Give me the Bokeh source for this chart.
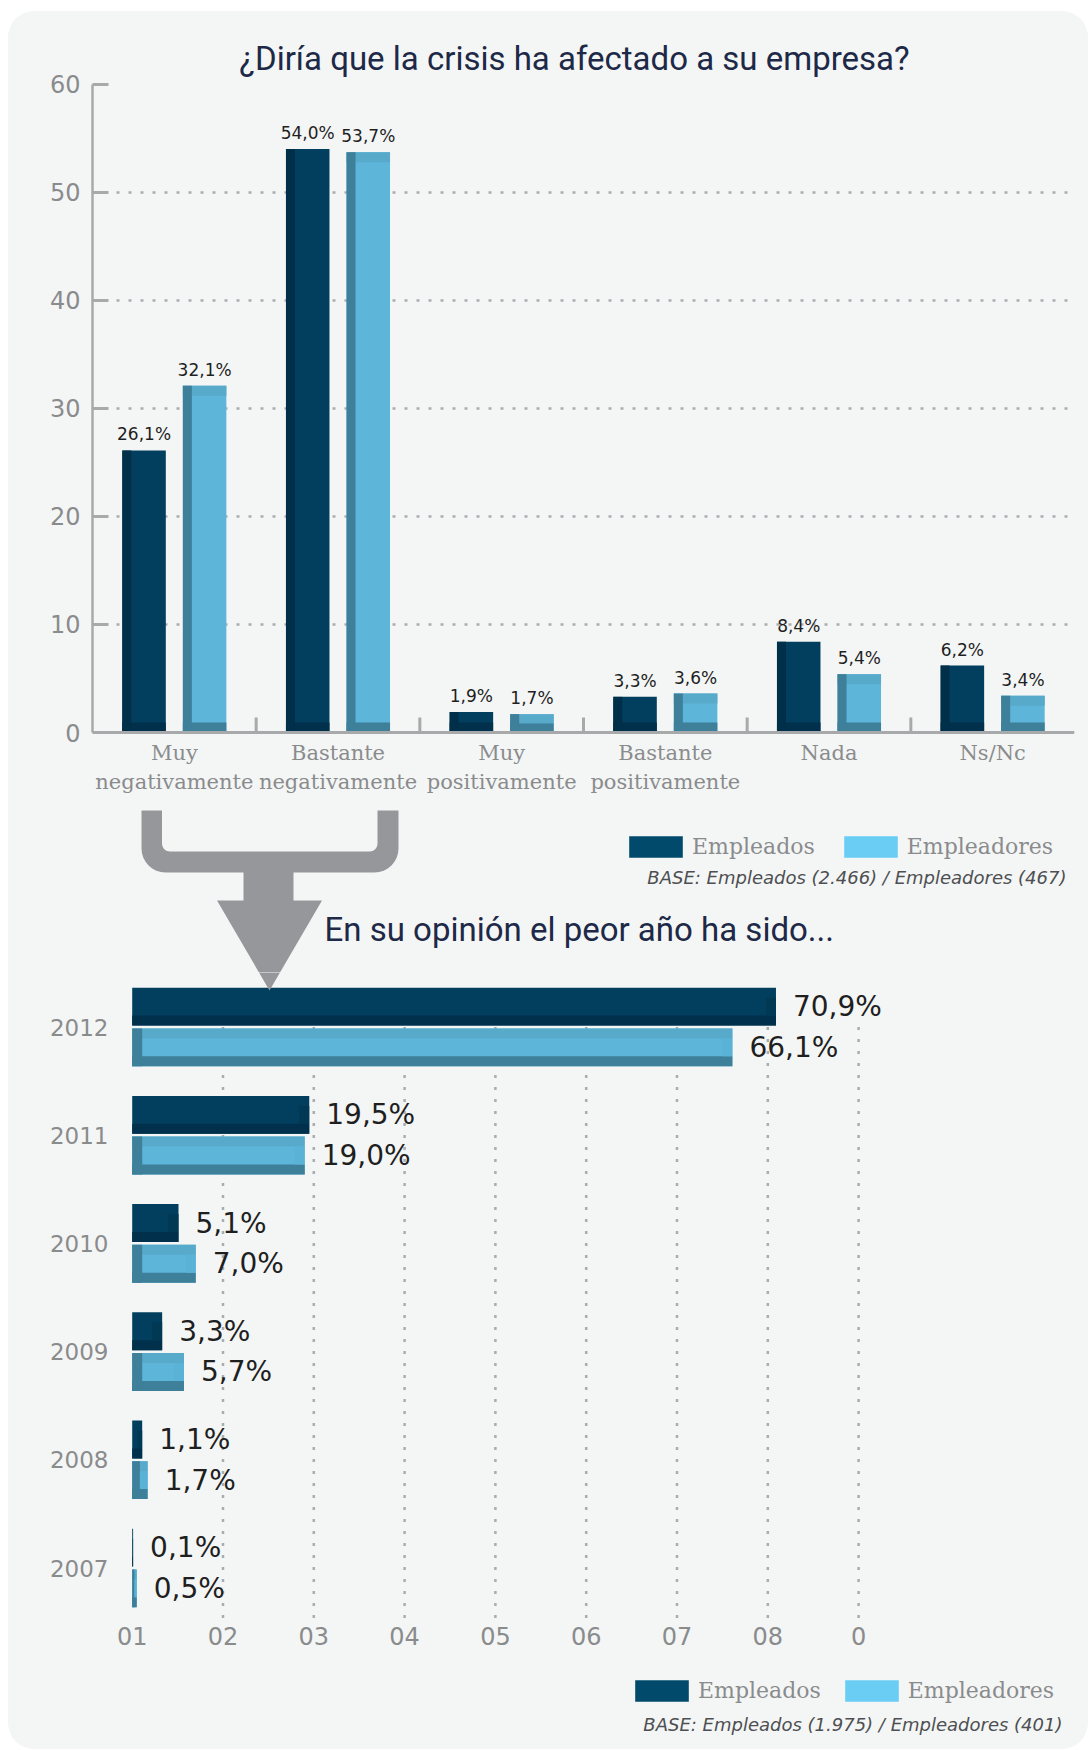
import numpy as np
from bokeh.plotting import figure
from bokeh.models import (ColumnDataSource, Range1d, FactorRange, FixedTicker,
                          Legend, LegendItem, Span)
from bokeh.transform import dodge
from bokeh.layouts import column
from bokeh.core.properties import value
from bokeh.embed import file_html
from bokeh.resources import INLINE

# ---------------- data ----------------
CATEGORIES = ["Muy negativamente", "Bastante negativamente", "Muy positivamente",
              "Bastante positivamente", "Nada", "Ns/Nc"]
CATEGORY_LABELS = ["Muy\nnegativamente", "Bastante\nnegativamente", "Muy\npositivamente",
                   "Bastante\npositivamente", "Nada", "Ns/Nc"]
EMPLEADOS_Q1 = [26.1, 54.0, 1.9, 3.3, 8.4, 6.2]
EMPLEADORES_Q1 = [32.1, 53.7, 1.7, 3.6, 5.4, 3.4]
Y_TICKS_Q1 = [0, 10, 20, 30, 40, 50, 60]

YEARS = ["2012", "2011", "2010", "2009", "2008", "2007"]
EMPLEADOS_Q2 = [70.9, 19.5, 5.1, 3.3, 1.1, 0.1]
EMPLEADORES_Q2 = [66.1, 19.0, 7.0, 5.7, 1.7, 0.5]
X_TICKS_Q2 = [0, 10, 20, 30, 40, 50, 60, 70, 80]
X_TICK_LABELS_Q2 = ["01", "02", "03", "04", "05", "06", "07", "08", "0"]

SERIES = ["Empleados", "Empleadores"]
TITLE_Q1 = "¿Diría que la crisis ha afectado a su empresa?"
TITLE_Q2 = "En su opinión el peor año ha sido..."
BASE_Q1 = "BASE: Empleados (2.466) / Empleadores (467)"
BASE_Q2 = "BASE: Empleados (1.975) / Empleadores (401)"

# ---------------- styles ----------------
CARD = "#f4f6f5"
NAVY = "#1d2947"
GREY_TXT = "#8a8b8d"
AXIS_GREY = "#a7a9ab"
DOT_GREY = "#a9adb2"
VAL_TXT = "#1f1f1f"
BASE_TXT = "#4d4f52"
ARROW = "#96979b"
DARK = dict(body="#023f5e", side="#002f49", bottom="#00304b", top="#023f5e", right="#013854")
LIGHT = dict(body="#5db5da", side="#3e7f9a", bottom="#3e7f99", top="#58aacb", right="#5ab2d7")
LEGEND_COLORS = ["#024a6b", "#69cdf4"]

# ---------------- layout (page pixels) ----------------
CARD_X0, CARD_Y0 = 8, 11
W = 1080
F1_TOP, F1_BOTTOM = 11, 972
F2_TOP, F2_BOTTOM = 972, 1749
FRAME_LEFT = 92
FRAME_RIGHT = 1074
Y0_PX, YTOP_PX = 732.0, 83.7
X0_PX2, PX_PER_PCT = 131.7, 9.08
ROW0_PX, ROW_PX = 1026.5, 108.2


def fmt_pct(v):
    return f"{v:.1f}".replace(".", ",") + "%"


def arc(cx, cy, r, a0, a1, n=9):
    t = np.radians(np.linspace(a0, a1, n))
    return list(cx + r * np.cos(t)), list(cy + r * np.sin(t))


def arrow_shape():
    # decorative bracket + arrow, page pixel coordinates (y downwards)
    L_out, L_in, R_in, R_out = 141.0, 161.5, 377.0, 398.0
    top, in_bot, out_bot = 810.0, 851.0, 872.0
    s_l, s_r, s_bot = 243.0, 293.0, 900.0
    h_l, h_r, tip_x, tip_y = 216.5, 321.5, 269.0, 990.0
    Ro, ri = 24.0, 8.0
    xs, ys = [L_out], [top]
    ax, ay = arc(L_out + Ro, out_bot - Ro, Ro, 180, 90); xs += ax; ys += ay
    xs += [s_l, s_l, h_l, tip_x, h_r, s_r, s_r]
    ys += [out_bot, s_bot, s_bot, tip_y, s_bot, s_bot, out_bot]
    ax, ay = arc(R_out - Ro, out_bot - Ro, Ro, 90, 0); xs += ax; ys += ay
    xs += [R_out, R_in]; ys += [top, top]
    ax, ay = arc(R_in - ri, in_bot - ri, ri, 0, 90); xs += ax; ys += ay
    ax, ay = arc(L_in + ri, in_bot - ri, ri, 90, 180); xs += ax; ys += ay
    xs += [L_in]; ys += [top]
    return np.array(xs), np.array(ys)


AX, AY = arrow_shape()


def style_fig(p):
    p.background_fill_color = None
    p.border_fill_color = None
    p.outline_line_color = None


def legend_for(renderers, loc, spacing):
    return Legend(items=[LegendItem(label=s, renderers=[r]) for s, r in zip(SERIES, renderers)],
                  orientation="horizontal", location=loc, glyph_width=67, glyph_height=27,
                  label_standoff=3, spacing=spacing, padding=0, margin=0,
                  border_line_color=None, background_fill_alpha=0,
                  label_text_font="DejaVu Serif", label_text_font_size="22px",
                  label_text_color=GREY_TXT, label_text_baseline="middle")


# ================= chart 1 : vertical bars =================
ymax = Y_TICKS_Q1[-1]
s1 = (Y0_PX - YTOP_PX) / ymax
n1 = len(CATEGORIES)
cat_px = (FRAME_RIGHT - FRAME_LEFT) / n1


def px1(x):
    # page x -> synthetic categorical coordinate of chart 1
    return (np.asarray(x, float) - FRAME_LEFT) / cat_px


y1_range = Range1d(-(F1_BOTTOM - Y0_PX) / s1, ymax + (YTOP_PX - F1_TOP) / s1)
p1 = figure(width=W, height=F1_BOTTOM - F1_TOP,
            x_range=FactorRange(factors=CATEGORIES, range_padding=0), y_range=y1_range,
            output_backend="svg", toolbar_location=None, x_axis_location=None,
            min_border_left=FRAME_LEFT - CARD_X0,
            min_border_right=CARD_X0 + W - FRAME_RIGHT,
            min_border_top=0, min_border_bottom=0)
style_fig(p1)
p1.extra_y_ranges = {"py": Range1d(F1_BOTTOM, F1_TOP)}

p1.xgrid.visible = False
p1.ygrid.ticker = FixedTicker(ticks=Y_TICKS_Q1[1:-1])
p1.ygrid.grid_line_color = DOT_GREY
p1.ygrid.grid_line_width = 2.5
p1.ygrid.grid_line_dash = "3 9"

p1.yaxis.ticker = FixedTicker(ticks=Y_TICKS_Q1)
p1.yaxis.bounds = (0, ymax)
p1.yaxis.axis_line_color = AXIS_GREY
p1.yaxis.axis_line_width = 2.5
p1.yaxis.major_tick_in = 16
p1.yaxis.major_tick_out = 0
p1.yaxis.major_tick_line_color = AXIS_GREY
p1.yaxis.major_tick_line_width = 3
p1.yaxis.minor_tick_line_color = None
p1.yaxis.major_label_text_font = "DejaVu Sans"
p1.yaxis.major_label_text_font_size = "24px"
p1.yaxis.major_label_text_color = GREY_TXT
p1.yaxis.major_label_standoff = 12

# zero baseline
p1.add_layout(Span(location=0, dimension="width", line_color=AXIS_GREY, line_width=3))

# two-line category labels beneath the baseline
line1 = [lab.split("\n")[0] for lab in CATEGORY_LABELS]
two_line = [(c, lab.split("\n")[1]) for c, lab in zip(CATEGORIES, CATEGORY_LABELS) if "\n" in lab]
p1.text(x=CATEGORIES, y=[0] * n1, text=line1, y_offset=20, text_align="center",
        text_baseline="middle", text_font=value("DejaVu Serif"), text_font_size="21px",
        text_color=GREY_TXT)
p1.text(x=[c for c, _ in two_line], y=[0] * len(two_line), text=[t for _, t in two_line],
        y_offset=49, text_align="center", text_baseline="middle",
        text_font=value("DejaVu Serif"), text_font_size="21px", text_color=GREY_TXT)

BAR_W1 = 43.5 / cat_px
DODGE1 = 0.185
SIDE_W1 = 9.0 / cat_px
CAP_H1 = 10.0 / s1

# group separators on the baseline (between categories)
sep = list(range(1, n1))
p1.segment(x0=sep, x1=sep, y0=[0] * len(sep), y1=[15.0 / s1] * len(sep),
           line_color=AXIS_GREY, line_width=3)


def q1_source(vals):
    v = np.asarray(vals, float)
    return ColumnDataSource(dict(cat=CATEGORIES, v=v, lab=[fmt_pct(x) for x in v],
                                 bot_top=np.minimum(v / 2, CAP_H1),
                                 top_bot=np.maximum(v - CAP_H1, v / 2)))


def draw_vbars(p, src, off, pal, with_top):
    xc = dodge("cat", off, range=p.x_range)
    p.vbar(x=xc, top="v", bottom=0, width=BAR_W1, fill_color=pal["body"], line_color=None, source=src)
    p.vbar(x=xc, top="bot_top", bottom=0, width=BAR_W1, fill_color=pal["bottom"], line_color=None,
           source=src)
    if with_top:
        p.vbar(x=xc, top="v", bottom="top_bot", width=BAR_W1, fill_color=pal["top"], line_color=None,
               source=src)
    p.vbar(x=dodge("cat", off - BAR_W1 / 2 + SIDE_W1 / 2, range=p.x_range), top="v", bottom=0,
           width=SIDE_W1, fill_color=pal["side"], line_color=None, source=src)
    p.text(x=xc, y="v", text="lab", text_align="center", text_baseline="bottom", y_offset=-6,
           text_font=value("DejaVu Sans"), text_font_size="17px", text_color=VAL_TXT, source=src)


draw_vbars(p1, q1_source(EMPLEADOS_Q1), -DODGE1, DARK, False)
draw_vbars(p1, q1_source(EMPLEADORES_Q1), DODGE1, LIGHT, True)

# legend proxies (placed below the visible range, only their swatches are shown)
leg_r1 = [p1.vbar(x=[CATEGORIES[0]], bottom=[y1_range.start - 2], top=[y1_range.start - 1],
                  width=0.2, fill_color=c, line_color=None) for c in LEGEND_COLORS]
p1.add_layout(legend_for(leg_r1, (530, 112.5), 22))

# decorations: titles, base note, arrow (page pixels, converted)
p1.text(x=px1([574]), y=[58], text=[TITLE_Q1], y_range_name="py",
        text_align="center", text_baseline="alphabetic", text_font=value("Roboto"),
        text_font_size="33px", text_color=NAVY)
p1.text(x=px1([1066]), y=[877], text=[BASE_Q1], y_range_name="py",
        text_align="right", text_baseline="middle", text_font=value("DejaVu Sans"),
        text_font_style="italic", text_font_size="18px", text_color=BASE_TXT)
p1.text(x=px1([324]), y=[929], text=[TITLE_Q2], y_range_name="py",
        text_align="left", text_baseline="alphabetic", text_font=value("Roboto"),
        text_font_size="33px", text_color=NAVY)
p1.patch(x=px1(AX), y=AY, y_range_name="py", fill_color=ARROW, line_color=None)

# ================= chart 2 : horizontal bars =================
n2 = len(YEARS)
ypos = list(range(n2))
y2_range = Range1d((F2_BOTTOM - ROW0_PX) / ROW_PX, -(ROW0_PX - F2_TOP) / ROW_PX)
p2 = figure(width=W, height=F2_BOTTOM - F2_TOP,
            x_range=Range1d(-(X0_PX2 - FRAME_LEFT) / PX_PER_PCT,
                            (FRAME_RIGHT - X0_PX2) / PX_PER_PCT),
            y_range=y2_range,
            output_backend="svg", toolbar_location=None,
            min_border_left=FRAME_LEFT - CARD_X0,
            min_border_right=CARD_X0 + W - FRAME_RIGHT,
            min_border_top=0, min_border_bottom=0)
style_fig(p2)
p2.extra_x_ranges = {"px": Range1d(FRAME_LEFT, FRAME_RIGHT)}
p2.extra_y_ranges = {"py": Range1d(F2_BOTTOM, F2_TOP)}
p2.xgrid.visible = False
p2.ygrid.visible = False

p2.yaxis.ticker = FixedTicker(ticks=ypos)
p2.yaxis.major_label_overrides = {i: y for i, y in zip(ypos, YEARS)}
p2.yaxis.axis_line_color = None
p2.yaxis.major_tick_line_color = None
p2.yaxis.major_tick_out = 0
p2.yaxis.major_tick_in = 0
p2.yaxis.minor_tick_line_color = None
p2.yaxis.major_label_text_font = "DejaVu Sans"
p2.yaxis.major_label_text_font_size = "23px"
p2.yaxis.major_label_text_color = GREY_TXT
p2.yaxis.major_label_standoff = -16

axis_y = n2 - 0.5
p2.xaxis.fixed_location = axis_y
p2.xaxis.ticker = FixedTicker(ticks=X_TICKS_Q2)
p2.xaxis.major_label_overrides = dict(zip(X_TICKS_Q2, X_TICK_LABELS_Q2))
p2.xaxis.axis_line_color = None
p2.xaxis.major_tick_line_color = None
p2.xaxis.major_tick_out = 0
p2.xaxis.minor_tick_line_color = None
p2.xaxis.major_label_text_font = "DejaVu Sans"
p2.xaxis.major_label_text_font_size = "24px"
p2.xaxis.major_label_text_color = GREY_TXT
p2.xaxis.major_label_standoff = 5

# dotted vertical gridlines (from the first row down to the axis)
gt = X_TICKS_Q2[1:]
p2.segment(x0=gt, x1=gt, y0=[ypos[0]] * len(gt), y1=[axis_y] * len(gt),
           line_color=DOT_GREY, line_width=2.5, line_dash="3 9")

BAR_H2 = 0.35
DODGE2 = 0.188
CAP_H2 = 10.0 / ROW_PX
SIDE_W2 = 10.0 / PX_PER_PCT


def q2_source(vals):
    v = np.asarray(vals, float)
    return ColumnDataSource(dict(y=ypos, v=v, lab=[fmt_pct(x) for x in v],
                                 side_r=np.minimum(v / 2, SIDE_W2),
                                 right_l=np.maximum(v - SIDE_W2, v / 2)))


def draw_hbars(p, src, off, pal, light):
    yc = dodge("y", off)
    p.hbar(y=yc, left=0, right="v", height=BAR_H2, fill_color=pal["body"], line_color=None, source=src)
    p.hbar(y=dodge("y", off + BAR_H2 / 2 - CAP_H2 / 2), left=0, right="v", height=CAP_H2,
           fill_color=pal["bottom"], line_color=None, source=src)
    if light:
        p.hbar(y=dodge("y", off - BAR_H2 / 2 + CAP_H2 / 2), left=0, right="v", height=CAP_H2,
               fill_color=pal["top"], line_color=None, source=src)
        p.hbar(y=yc, left=0, right="side_r", height=BAR_H2, fill_color=pal["side"],
               line_color=None, source=src)
    p.hbar(y=yc, left="right_l", right="v", height=BAR_H2 - 2 * CAP_H2, fill_color=pal["right"],
           line_color=None, source=src)
    p.text(x="v", y=yc, text="lab", x_offset=17, text_align="left", text_baseline="middle",
           text_font=value("DejaVu Sans"), text_font_size="28px", text_color=VAL_TXT, source=src)


draw_hbars(p2, q2_source(EMPLEADOS_Q2), -DODGE2, DARK, False)
draw_hbars(p2, q2_source(EMPLEADORES_Q2), DODGE2, LIGHT, True)

leg_r2 = [p2.hbar(y=[y2_range.start + 1], left=[0], right=[1], height=0.2, fill_color=c,
                  line_color=None) for c in LEGEND_COLORS]
p2.add_layout(legend_for(leg_r2, (536, 45), 17))

p2.patch(x=AX, y=AY, x_range_name="px", y_range_name="py", fill_color=ARROW, line_color=None)
p2.text(x=[1062], y=[1724], text=[BASE_Q2], x_range_name="px", y_range_name="py",
        text_align="right", text_baseline="middle", text_font=value("DejaVu Sans"),
        text_font_style="italic", text_font_size="18px", text_color=BASE_TXT)

layout = column(p1, p2, margin=(CARD_Y0, 0, 0, CARD_X0),
                styles={"background-color": CARD, "border-radius": "26px"})

with open("out.html", "w", encoding="utf-8") as f:
    f.write(file_html(layout, INLINE))
